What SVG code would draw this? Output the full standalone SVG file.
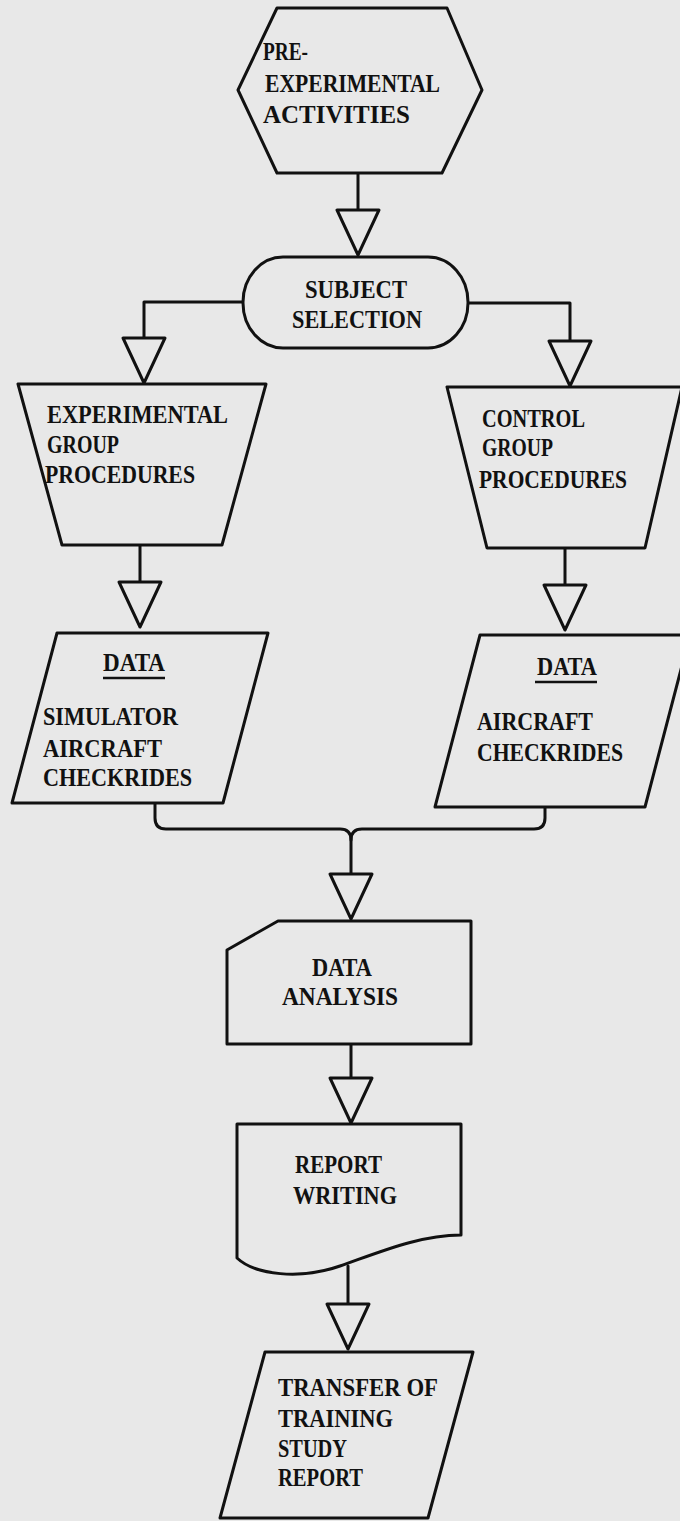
<svg xmlns="http://www.w3.org/2000/svg" xmlns:xlink="http://www.w3.org/1999/xlink" width="680" height="1521" viewBox="0 0 680 1521">
<defs>
<style>
.shape{fill:#e8e8e8;stroke:#111;stroke-width:3;stroke-linejoin:round}
.line{fill:none;stroke:#111;stroke-width:3;stroke-linejoin:round;stroke-linecap:round}
.lbl{font-family:"Liberation Serif","Times New Roman",serif;font-weight:bold;font-size:24.5px;fill:#111}
.ul{stroke:#111;stroke-width:2.6}
</style>
<polygon id="tri" points="-21,-45 21,-45 0,0" fill="#e8e8e8" stroke="#111" stroke-width="3" stroke-linejoin="round"/>
</defs>
<rect x="0" y="0" width="680" height="1521" fill="#e8e8e8"/>

<g id="connectors">
<path class="line" d="M358,173 V210"/>
<path class="line" d="M243,302 H144 V338"/>
<path class="line" d="M468,303 H570 V340"/>
<path class="line" d="M140,545 V582"/>
<path class="line" d="M565,548 V585"/>
<path class="line" d="M155,803 V818 Q155,829 166,829 H340 Q351,829 351,840 V874"/>
<path class="line" d="M545,807 V818 Q545,829 534,829 H362 Q351,829 351,840"/>
<path class="line" d="M351,1044 V1078"/>
<path class="line" d="M348,1266 V1303"/>
<use xlink:href="#tri" x="358" y="255"/>
<use xlink:href="#tri" x="144" y="383"/>
<use xlink:href="#tri" x="570" y="386"/>
<use xlink:href="#tri" x="140" y="627"/>
<use xlink:href="#tri" x="565" y="630"/>
<use xlink:href="#tri" x="351" y="919"/>
<use xlink:href="#tri" x="351" y="1123"/>
<use xlink:href="#tri" x="348" y="1349"/>
</g>

<g id="pre-experimental">
<polygon class="shape" points="277,8 447,8 482,90 442,173 277,173 238,90"/>
<text class="lbl" x="263" y="60" textLength="45" lengthAdjust="spacingAndGlyphs">PRE-</text>
<text class="lbl" x="265" y="92" textLength="175" lengthAdjust="spacingAndGlyphs">EXPERIMENTAL</text>
<text class="lbl" x="263" y="123" textLength="147" lengthAdjust="spacingAndGlyphs">ACTIVITIES</text>
</g>

<g id="subject-selection">
<rect class="shape" x="243" y="257" width="225" height="91" rx="40" ry="45"/>
<text class="lbl" x="305" y="298" textLength="102" lengthAdjust="spacingAndGlyphs">SUBJECT</text>
<text class="lbl" x="292" y="328" textLength="130" lengthAdjust="spacingAndGlyphs">SELECTION</text>
</g>

<g id="experimental-group">
<polygon class="shape" points="18,384 266,384 222,545 62,545"/>
<text class="lbl" x="47" y="423" textLength="181" lengthAdjust="spacingAndGlyphs">EXPERIMENTAL</text>
<text class="lbl" x="47" y="453" textLength="72" lengthAdjust="spacingAndGlyphs">GROUP</text>
<text class="lbl" x="45" y="483" textLength="150" lengthAdjust="spacingAndGlyphs">PROCEDURES</text>
</g>

<g id="control-group">
<polygon class="shape" points="447,387 682,387 645,548 487,548"/>
<text class="lbl" x="482" y="427" textLength="103" lengthAdjust="spacingAndGlyphs">CONTROL</text>
<text class="lbl" x="482" y="456" textLength="71" lengthAdjust="spacingAndGlyphs">GROUP</text>
<text class="lbl" x="479" y="488" textLength="148" lengthAdjust="spacingAndGlyphs">PROCEDURES</text>
</g>

<g id="data-simulator">
<polygon class="shape" points="57,633 268,633 223,803 12,803"/>
<text class="lbl" x="103" y="671" textLength="62" lengthAdjust="spacingAndGlyphs">DATA</text>
<line class="ul" x1="103" y1="678" x2="165" y2="678"/>
<text class="lbl" x="43" y="725" textLength="135" lengthAdjust="spacingAndGlyphs">SIMULATOR</text>
<text class="lbl" x="43" y="757" textLength="119" lengthAdjust="spacingAndGlyphs">AIRCRAFT</text>
<text class="lbl" x="43" y="786" textLength="149" lengthAdjust="spacingAndGlyphs">CHECKRIDES</text>
</g>

<g id="data-aircraft">
<polygon class="shape" points="480,635 690,635 645,807 435,807"/>
<text class="lbl" x="537" y="675" textLength="60" lengthAdjust="spacingAndGlyphs">DATA</text>
<line class="ul" x1="535" y1="682" x2="597" y2="682"/>
<text class="lbl" x="477" y="730" textLength="116" lengthAdjust="spacingAndGlyphs">AIRCRAFT</text>
<text class="lbl" x="477" y="761" textLength="146" lengthAdjust="spacingAndGlyphs">CHECKRIDES</text>
</g>

<g id="data-analysis">
<polygon class="shape" points="278,921 471,921 471,1044 227,1044 227,950"/>
<text class="lbl" x="312" y="976" textLength="60" lengthAdjust="spacingAndGlyphs">DATA</text>
<text class="lbl" x="282" y="1005" textLength="116" lengthAdjust="spacingAndGlyphs">ANALYSIS</text>
</g>

<g id="report-writing">
<path class="shape" d="M237,1124 H461 V1235 C420,1235 380,1252 340,1266 C300,1280 255,1275 237,1258 Z"/>
<text class="lbl" x="295" y="1173" textLength="87" lengthAdjust="spacingAndGlyphs">REPORT</text>
<text class="lbl" x="293" y="1204" textLength="104" lengthAdjust="spacingAndGlyphs">WRITING</text>
</g>

<g id="transfer-report">
<polygon class="shape" points="265,1352 473,1352 428,1518 220,1518"/>
<text class="lbl" x="278" y="1396" textLength="160" lengthAdjust="spacingAndGlyphs">TRANSFER OF</text>
<text class="lbl" x="278" y="1427" textLength="115" lengthAdjust="spacingAndGlyphs">TRAINING</text>
<text class="lbl" x="278" y="1457" textLength="69" lengthAdjust="spacingAndGlyphs">STUDY</text>
<text class="lbl" x="278" y="1486" textLength="85" lengthAdjust="spacingAndGlyphs">REPORT</text>
</g>
</svg>
